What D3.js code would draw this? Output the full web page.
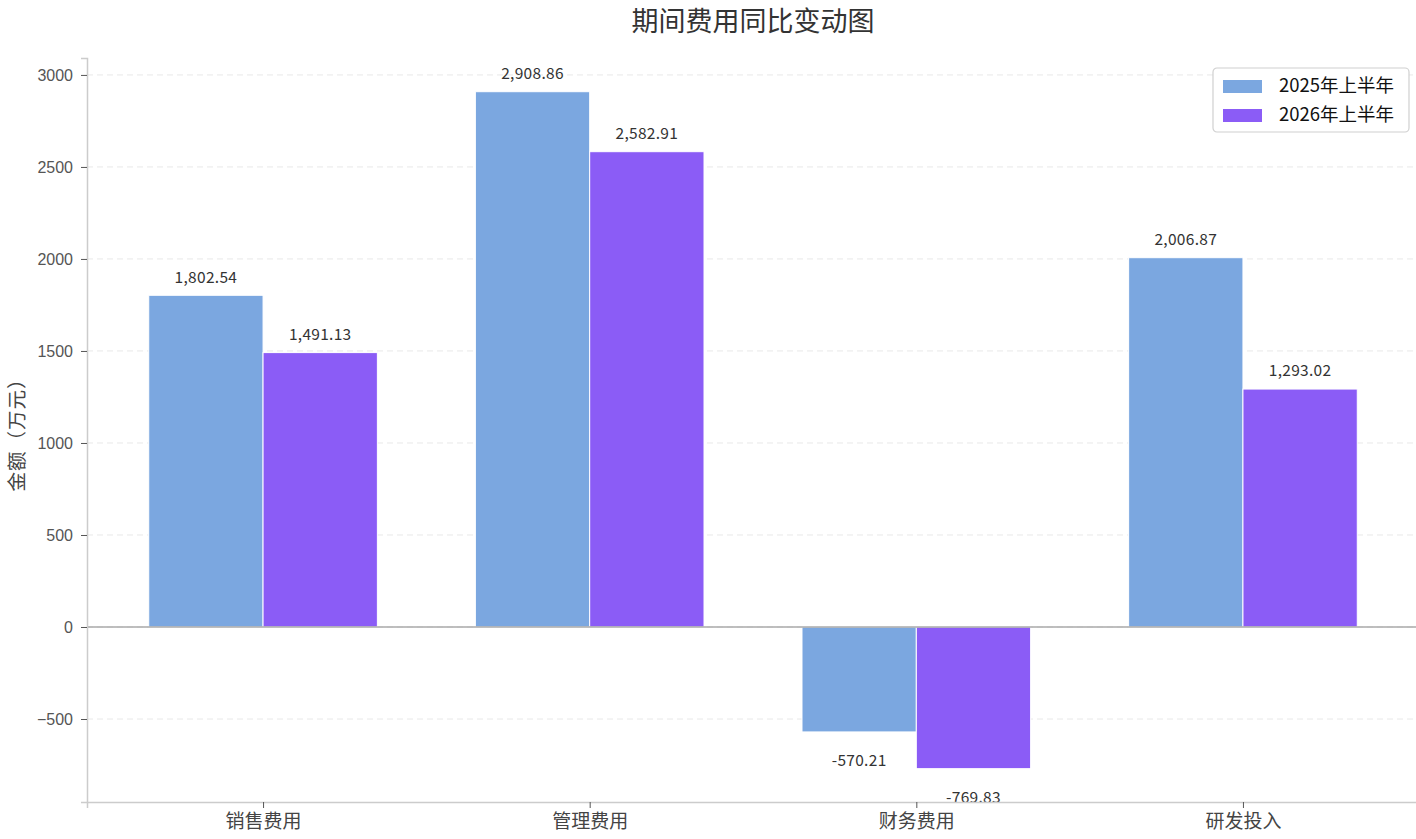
<!DOCTYPE html>
<html>
<head>
<meta charset="utf-8">
<script src="https://cdn.jsdelivr.net/npm/d3@7"></script>
<style>
  body { margin: 0; background: #fff; }
  svg { display: block; }
</style>
</head>
<body>
<svg id="chart" width="1416" height="839"></svg>
<script>
const categories = ["销售费用", "管理费用", "财务费用", "研发投入"];
const seriesNames = ["2025年上半年", "2026年上半年"];
const values2025 = [1802.54, 2908.86, -570.21, 2006.87];
const values2026 = [1491.13, 2582.91, -769.83, 1293.02];
const yTicks = [-500, 0, 500, 1000, 1500, 2000, 2500, 3000];
const colors = ["#7ba7e0", "#8b5cf6"];

const cjk = "'Noto Sans CJK SC', 'Noto Sans', sans-serif";
const latin = "'Liberation Sans', Arial, sans-serif";

const svg = d3.select("#chart");
const margin = { left: 87, right: -3, top: 58, bottom: 37 };
const width = 1416, height = 839;

const series = [values2025, values2026];
const rows = categories.map((c, i) => ({ cat: c, vals: series.map((s) => s[i]) }));

const x = d3.scaleLinear().domain([-0.539, categories.length - 1 + 0.539])
  .range([margin.left, width - margin.right]);
const y = d3.scaleLinear().domain([-951, 3092]).range([height - margin.bottom, margin.top]);
const barW = x(0.35) - x(0);

// grid
svg.append("g").selectAll("line").data(yTicks).join("line")
  .attr("x1", margin.left).attr("x2", width)
  .attr("y1", (d) => y(d)).attr("y2", (d) => y(d))
  .attr("stroke", "#e8e8e8").attr("stroke-width", 1).attr("stroke-dasharray", "6,4");

// bars
const groups = svg.append("g").selectAll("g").data(rows).join("g");
groups.selectAll("rect").data((d, i) => d.vals.map((v, k) => ({ v, k, i }))).join("rect")
  .attr("x", (d) => x(d.i + (d.k === 0 ? -0.35 : 0)))
  .attr("width", barW)
  .attr("y", (d) => y(Math.max(0, d.v)))
  .attr("height", (d) => Math.abs(y(d.v) - y(0)))
  .attr("fill", (d) => colors[d.k])
  .attr("stroke", "#fff").attr("stroke-width", 1);

// value labels
const fmt = d3.format(",.2f");
groups.selectAll("text").data((d, i) => d.vals.map((v, k) => ({ v, k, i }))).join("text")
  .attr("x", (d) => x(d.i + (d.k === 0 ? -0.175 : 0.175)))
  .attr("y", (d) => d.v >= 0 ? y(d.v) - 18 : y(d.v) + 29)
  .attr("dy", "0.35em")
  .attr("text-anchor", "middle")
  .attr("font-family", cjk).attr("font-size", 15.5).attr("fill", "#333")
  .attr("letter-spacing", 0.3)
  .text((d) => fmt(d.v).replace("−", "-"));

// zero line
svg.append("line")
  .attr("x1", margin.left).attr("x2", width)
  .attr("y1", y(0)).attr("y2", y(0))
  .attr("stroke", "#aaa").attr("stroke-width", 1.5);

// y axis
const yAxis = svg.append("g").attr("transform", `translate(${margin.left},0)`)
  .call(d3.axisLeft(y).tickValues(yTicks).tickSize(6).tickPadding(8).tickFormat((d) => d < 0 ? "\u2212" + Math.abs(d) : d));
yAxis.select(".domain").attr("stroke", "#ccc").attr("stroke-width", 1.5);
yAxis.selectAll(".tick line").attr("stroke", "#555");
yAxis.selectAll(".tick text").attr("font-family", latin).attr("font-size", 16).attr("fill", "#555");

// x axis
const xAxis = svg.append("g").attr("transform", `translate(0,${height - margin.bottom})`)
  .call(d3.axisBottom(x).tickValues(d3.range(categories.length)).tickSize(6).tickPadding(7).tickFormat((d) => categories[d]));
xAxis.select(".domain").attr("stroke", "#ccc").attr("stroke-width", 1.5);
xAxis.selectAll(".tick line").attr("stroke", "#555");
xAxis.selectAll(".tick text").attr("font-family", cjk).attr("font-size", 19).attr("fill", "#444");

// y label
svg.append("text")
  .attr("transform", `translate(17,${(margin.top + height - margin.bottom) / 2}) rotate(-90)`)
  .attr("text-anchor", "middle").attr("dy", "0.35em")
  .attr("font-family", cjk).attr("font-size", 19.5).attr("fill", "#444")
  .attr("letter-spacing", 1)
  .text("金额（万元）");

// title
svg.append("text")
  .attr("x", (margin.left + 1419) / 2).attr("y", 22).attr("dy", "0.35em")
  .attr("text-anchor", "middle")
  .attr("font-family", cjk).attr("font-size", 27).attr("fill", "#333")
  .text("期间费用同比变动图");

// legend
const lg = svg.append("g").attr("transform", "translate(1213,68)");
lg.append("rect").attr("width", 196).attr("height", 64).attr("rx", 4)
  .attr("fill", "#fff").attr("stroke", "#d0d0d0").attr("stroke-width", 1.2);
seriesNames.forEach((name, i) => {
  lg.append("rect").attr("x", 10).attr("y", 12 + i * 29).attr("width", 39).attr("height", 13).attr("fill", colors[i]);
  lg.append("text").attr("x", 66).attr("y", 18 + i * 29).attr("dy", "0.35em")
    .attr("font-family", cjk).attr("font-size", 18.5).attr("fill", "#111").text(name);
});
</script>
</body>
</html>
